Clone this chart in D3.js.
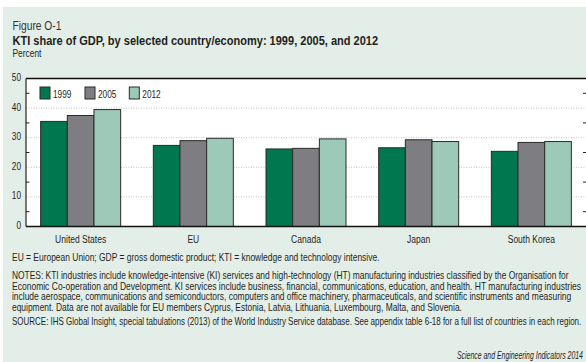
<!DOCTYPE html>
<html>
<head>
<meta charset="utf-8">
<script src="https://cdn.jsdelivr.net/npm/d3@7"></script>
<style>
  body { margin: 0; background: #fff; }
  svg { display: block; font-family: "Liberation Sans", Arial, sans-serif; }
</style>
</head>
<body>
<svg width="586" height="362"></svg>
<script>

// DATA

var categories = ["United States", "EU", "Canada", "Japan", "South Korea"];
var years = ["1999", "2005", "2012"];
var v1999 = [35.5, 27.4, 26.2, 26.6, 25.4];
var v2005 = [37.5, 29.0, 26.4, 29.3, 28.4];
var v2012 = [39.5, 29.8, 29.6, 28.7, 28.7];
var yTicks = [0, 10, 20, 30, 40, 50];
var minorTicks = [5, 15, 25, 35, 45];

var colors = { "1999": "#00774e", "2005": "#7e7e82", "2012": "#9dcab8" };

var notes = [
    "NOTES: KTI industries include knowledge-intensive (KI) services and high-technology (HT) manufacturing industries classified by  the Organisation for",
    "Economic Co-operation and Development. KI services include business, financial, communications, education, and health. HT manufacturing industries",
    "include aerospace, communications and semiconductors, computers and office machinery, pharmaceuticals, and scientific instruments and measuring",
    "equipment. Data are not available for EU members Cyprus, Estonia, Latvia, Lithuania, Luxembourg, Malta, and Slovenia."
];
var notesWidths = [557, 570, 560, 450];

var data = categories.map(function (c, i) {
    return { cat: c, vals: [
        { year: "1999", v: v1999[i] },
        { year: "2005", v: v2005[i] },
        { year: "2012", v: v2012[i] }
    ]};
});

var svg = d3.select("svg"),
    width = +svg.attr("width"),
    height = +svg.attr("height");

var sx = 0.74; // condensed look

// background panel
svg.append("rect")
    .attr("x", 3).attr("y", 7)
    .attr("width", width - 3).attr("height", height - 7)
    .attr("fill", "#e3eee9");

var x = d3.scaleBand()
    .domain(categories)
    .range([26, 586])
    .paddingInner(0.29)
    .paddingOuter(0.13);

var xs = d3.scaleBand()
    .domain(years)
    .range([0, x.bandwidth()]);

var y = d3.scaleLinear()
    .domain([0, 50])
    .range([226.5, 78.5]);

// plot area
svg.append("rect")
    .attr("x", 26).attr("y", y(50))
    .attr("width", 586 - 26).attr("height", y(0) - y(50))
    .attr("fill", "#fff");

// dotted gridlines
svg.append("g").selectAll("line")
    .data(yTicks.filter(function (d) { return d > 0 && d < 50; }))
    .enter().append("line")
    .attr("x1", 26).attr("x2", 586)
    .attr("y1", function (d) { return y(d); })
    .attr("y2", function (d) { return y(d); })
    .attr("stroke", "#b5b5b5")
    .attr("stroke-width", 0.8)
    .attr("stroke-dasharray", "1,1.5");

// minor ticks left and right
var mt = svg.append("g");
mt.selectAll(".ml").data(minorTicks).enter().append("line")
    .attr("x1", 26).attr("x2", 29.5)
    .attr("y1", function (d) { return y(d); })
    .attr("y2", function (d) { return y(d); })
    .attr("stroke", "#222").attr("stroke-width", 1);
mt.selectAll(".mr").data(minorTicks).enter().append("line")
    .attr("x1", 583).attr("x2", 586)
    .attr("y1", function (d) { return y(d); })
    .attr("y2", function (d) { return y(d); })
    .attr("stroke", "#222").attr("stroke-width", 1);

// bars
var groups = svg.append("g").selectAll("g")
    .data(data)
    .enter().append("g")
    .attr("transform", function (d) { return "translate(" + x(d.cat) + ",0)"; });

groups.selectAll("rect")
    .data(function (d) { return d.vals; })
    .enter().append("rect")
    .attr("x", function (d) { return xs(d.year); })
    .attr("y", function (d) { return y(d.v); })
    .attr("width", xs.bandwidth())
    .attr("height", function (d) { return y(0) - y(d.v); })
    .attr("fill", function (d) { return colors[d.year]; })
    .attr("stroke", "#2a2a2a")
    .attr("stroke-width", 1);

// frame lines
svg.append("line")
    .attr("x1", 26).attr("x2", 586)
    .attr("y1", y(50)).attr("y2", y(50))
    .attr("stroke", "#111").attr("stroke-width", 1.6);
svg.append("line")
    .attr("x1", 26).attr("x2", 586)
    .attr("y1", y(0)).attr("y2", y(0))
    .attr("stroke", "#111").attr("stroke-width", 1.4);
svg.append("line")
    .attr("x1", 26).attr("x2", 26)
    .attr("y1", y(0)).attr("y2", y(50))
    .attr("stroke", "#111").attr("stroke-width", 1.1);

function label(x0, y0, s, size, anchor, opts) {
    opts = opts || {};
    var t = svg.append("text")
        .attr("transform", "translate(" + x0 + "," + y0 + ") scale(" + (opts.sx || sx) + ",1)")
        .attr("font-size", size)
        .attr("text-anchor", anchor || "start")
        .attr("fill", opts.fill || "#231f20")
        .text(s);
    if (opts.weight) t.attr("font-weight", opts.weight);
    if (opts.italic) t.attr("font-style", "italic");
    return t;
}

// squeeze a line horizontally so it spans w pixels
function fitted(x0, y0, s, size, w, opts) {
    opts = opts || {};
    var t = svg.append("text")
        .attr("font-size", size)
        .attr("fill", opts.fill || "#231f20")
        .text(s);
    if (opts.weight) t.attr("font-weight", opts.weight);
    if (opts.italic) t.attr("font-style", "italic");
    var natural = t.node().getComputedTextLength();
    t.attr("transform", "translate(" + x0 + "," + y0 + ") scale(" + (w / natural) + ",1)");
    return t;
}

// y tick labels
yTicks.forEach(function (d) {
    label(21, y(d) + 2.5, d, 11.5, "end", { sx: 0.72 });
});

// category labels
categories.forEach(function (c) {
    label(x(c) + x.bandwidth() / 2, 243, c, 11.5, "middle");
});

// legend
var legX = [40, 85, 129.3];
var legend = svg.append("g").selectAll("g")
    .data(years)
    .enter().append("g")
    .attr("transform", function (d, i) { return "translate(" + legX[i] + ",87)"; });
legend.append("rect")
    .attr("width", 10).attr("height", 12)
    .attr("fill", function (d) { return colors[d]; })
    .attr("stroke", "#2a2a2a").attr("stroke-width", 1);
legend.append("text")
    .attr("transform", "translate(13,10.5) scale(0.72,1)")
    .attr("font-size", 11.5)
    .attr("fill", "#231f20")
    .text(function (d) { return d; });

// titles
fitted(12.5, 29.5, "Figure O-1", 13, 49, { fill: "#333" });
fitted(12.5, 44.5, "KTI share of GDP, by selected country/economy: 1999, 2005, and 2012", 12.6, 366, { weight: "bold" });
fitted(12.5, 57, "Percent", 10.3, 29);

// footnotes
fitted(12, 261, "EU = European Union; GDP = gross domestic product; KTI = knowledge and technology intensive.", 10.3, 368);
notes.forEach(function (n, i) {
    fitted(12, 279 + i * 10.7, n, 10.3, notesWidths[i]);
});
fitted(12, 325, "SOURCE: IHS Global Insight, special tabulations (2013) of the World Industry Service database. See appendix table 6-18 for a full list of countries in each region.", 10.3, 570);
fitted(457, 358.5, "Science and Engineering Indicators 2014", 10.3, 126, { italic: true });

</script>
</body>
</html>
